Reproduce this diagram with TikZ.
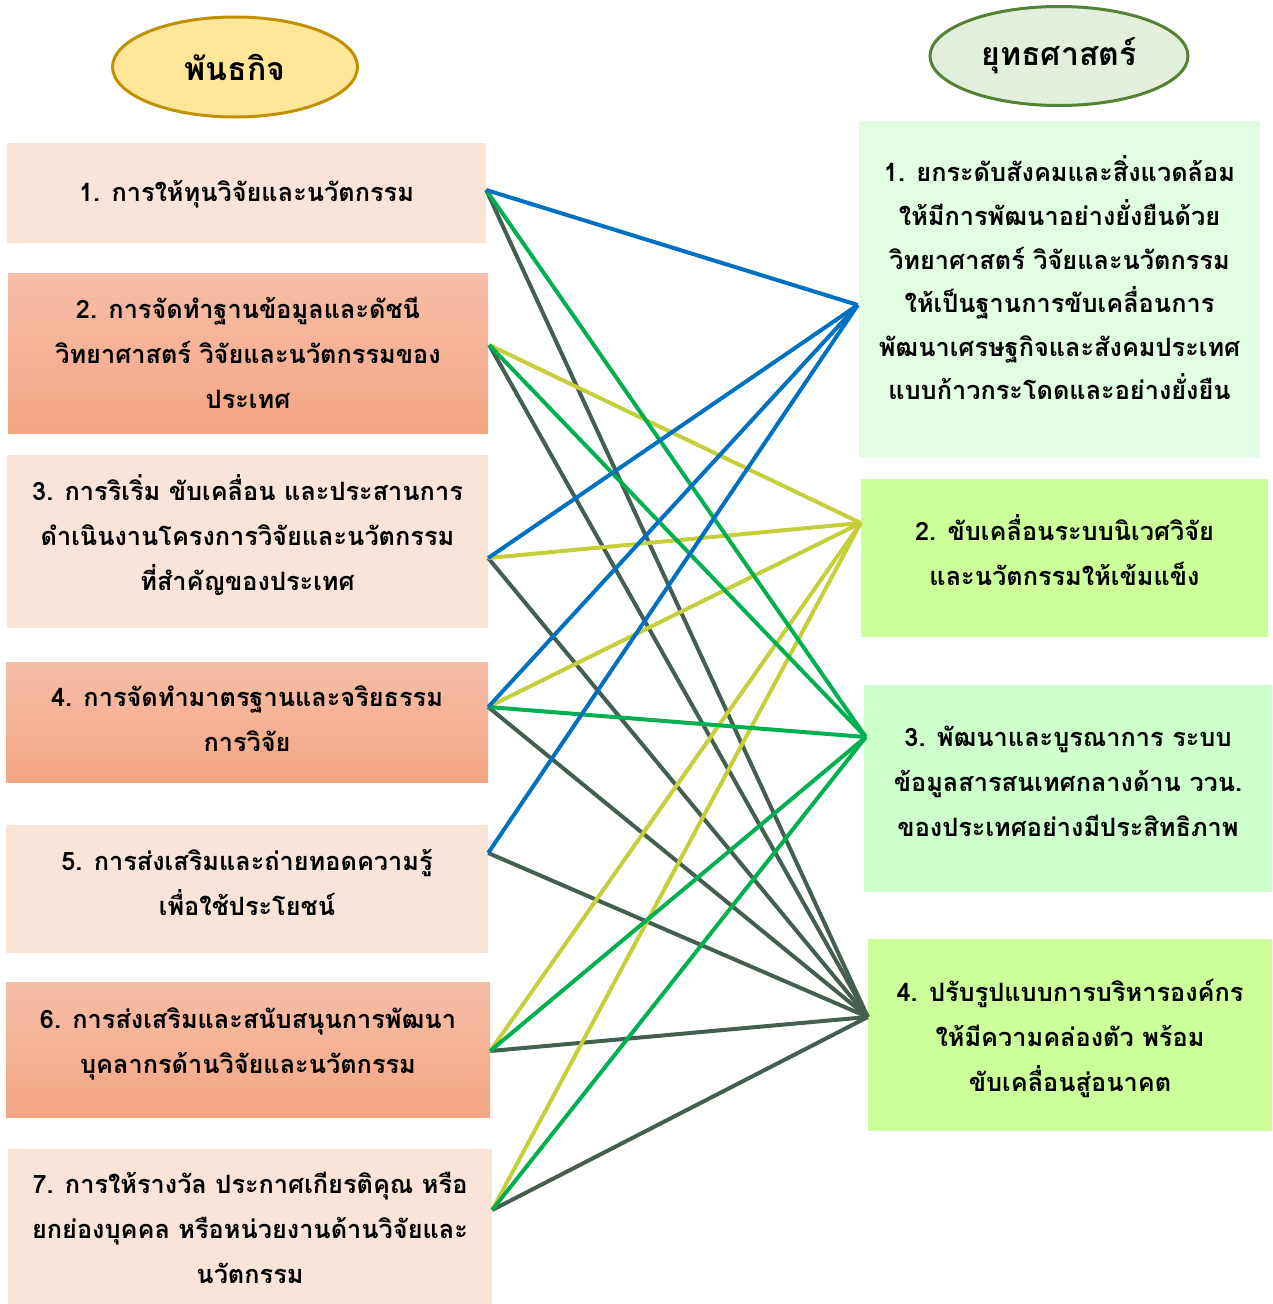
\documentclass[tikz,border=0pt]{standalone}
\usepackage{fontspec}
\usetikzlibrary{shapes.geometric}
\newfontfamily\thai[Script=Thai]{Loma}
\definecolor{peach}{HTML}{FAE4D7}
\definecolor{salmonTop}{HTML}{F6BEA7}
\definecolor{salmonBot}{HTML}{F4A683}
\definecolor{mint}{HTML}{E2FEE0}
\definecolor{lime}{HTML}{CCFF99}
\definecolor{paleGreen}{HTML}{CCFFCC}
\definecolor{goldFill}{HTML}{FFE699}
\definecolor{goldLine}{HTML}{BF9000}
\definecolor{sageFill}{HTML}{E2EFDA}
\definecolor{sageLine}{HTML}{548235}
\definecolor{cBlue}{HTML}{0070C0}
\definecolor{cGreen}{HTML}{00B050}
\definecolor{cYellow}{HTML}{C4CF3A}
\definecolor{cDark}{HTML}{445F4F}
\tikzset{
  boxtext/.style={align=center, inner sep=0pt, font=\thai\bfseries\fontsize{25.3}{45}\selectfont, text=black},
  boxbase/.style={rectangle, inner sep=0pt, draw=none},
  peachbox/.style={boxbase, fill=peach},
  salmonbox/.style={boxbase, top color=salmonTop, bottom color=salmonBot},
  mintbox/.style={boxbase, fill=mint},
  limebox/.style={boxbase, fill=lime},
  palebox/.style={boxbase, fill=paleGreen},
  headoval/.style={ellipse, line width=3pt, inner sep=0pt, font=\thai\bfseries\fontsize{32}{38}\selectfont},
  conn/.style={line width=4pt},
  blueline/.style={conn, draw=cBlue},
  greenline/.style={conn, draw=cGreen},
  yellowline/.style={conn, draw=cYellow},
  darkline/.style={conn, draw=cDark},
}
\begin{document}
\begin{tikzpicture}[x=1pt,y=-1pt]
\useasboundingbox (0,0) rectangle (1272,1304);
% headers
\node[headoval, fill=goldFill, draw=goldLine, minimum width=245pt, minimum height=100pt] (H1) at (235,67) {พันธกิจ};
\node[headoval, fill=sageFill, draw=sageLine, minimum width=258pt, minimum height=99pt] (H2) at (1059,56) {ยุทธศาสตร์};
% left boxes
\node[peachbox, minimum width=479pt, minimum height=100pt] (L1) at (246.5,193) {};
\node[salmonbox, minimum width=480pt, minimum height=160pt] (L2) at (248,353) {};
\node[peachbox, minimum width=481pt, minimum height=173pt] (L3) at (247.5,541.5) {};
\node[salmonbox, minimum width=482pt, minimum height=120pt] (L4) at (247,722) {};
\node[peachbox, minimum width=482pt, minimum height=128pt] (L5) at (247,889) {};
\node[salmonbox, minimum width=484pt, minimum height=135pt] (L6) at (248,1049.5) {};
\node[peachbox, minimum width=484pt, minimum height=155pt] (L7) at (250,1226.5) {};
% right boxes
\node[mintbox, minimum width=401pt, minimum height=336pt] (R1) at (1059.5,289) {};
\node[limebox, minimum width=407pt, minimum height=158pt] (R2) at (1064.5,558) {};
\node[palebox, minimum width=408pt, minimum height=207pt] (R3) at (1068,788.5) {};
\node[limebox, minimum width=404pt, minimum height=192pt] (R4) at (1070,1035) {};
% texts
\node[boxtext] (L1t) at (246.5,194) {1. การให้ทุนวิจัยและนวัตกรรม};
\node[boxtext] (L2t) at (248,353) {2. การจัดทำฐานข้อมูลและดัชนี\\วิทยาศาสตร์ วิจัยและนวัตกรรมของ\\ประเทศ};
\node[boxtext] (L3t) at (247.5,535) {3. การริเริ่ม ขับเคลื่อน และประสานการ\\ดำเนินงานโครงการวิจัยและนวัตกรรม\\ที่สำคัญของประเทศ};
\node[boxtext] (L4t) at (247,719) {4. การจัดทำมาตรฐานและจริยธรรม\\การวิจัย};
\node[boxtext] (L5t) at (247,882.5) {5. การส่งเสริมและถ่ายทอดความรู้\\เพื่อใช้ประโยชน์};
\node[boxtext] (L6t) at (248,1043.5) {6. การส่งเสริมและสนับสนุนการพัฒนา\\บุคลากรด้านวิจัยและนวัตกรรม};
\node[boxtext] (L7t) at (250,1228) {7. การให้รางวัล ประกาศเกียรติคุณ หรือ\\ยกย่องบุคคล หรือหน่วยงานด้านวิจัยและ\\นวัตกรรม};
\node[boxtext, font=\thai\bfseries\fontsize{25.3}{43.6}\selectfont] (R1t) at (1059.5,278) {1. ยกระดับสังคมและสิ่งแวดล้อม\\ให้มีการพัฒนาอย่างยั่งยืนด้วย\\วิทยาศาสตร์ วิจัยและนวัตกรรม\\ให้เป็นฐานการขับเคลื่อนการ\\พัฒนาเศรษฐกิจและสังคมประเทศ\\แบบก้าวกระโดดและอย่างยั่งยืน};
\node[boxtext] (R2t) at (1064.5,550) {2. ขับเคลื่อนระบบนิเวศวิจัย\\และนวัตกรรมให้เข้มแข็ง};
\node[boxtext] (R3t) at (1068,781) {3. พัฒนาและบูรณาการ ระบบ\\ข้อมูลสารสนเทศกลางด้าน ววน.\\ของประเทศอย่างมีประสิทธิภาพ};
\node[boxtext] (R4t) at (1070,1038) {4. ปรับรูปแบบการบริหารองค์กร\\ให้มีความคล่องตัว พร้อม\\ขับเคลื่อนสู่อนาคต};
% connector ends
\coordinate (l1) at (L1.east |- 0,190);
\coordinate (l2) at ([xshift=1pt]L2.east |- 0,345);
\coordinate (l3) at (L3.east |- 0,558);
\coordinate (l4) at (L4.east |- 0,707);
\coordinate (l5) at (L5.east |- 0,853);
\coordinate (l6) at (L6.east |- 0,1051);
\coordinate (l7) at (L7.east |- 0,1210);
\coordinate (r1) at ([xshift=-1pt]R1.west |- 0,305);
\coordinate (r2) at (R2.west |- 0,523);
\coordinate (r3) at ([xshift=2pt]R3.west |- 0,737);
\coordinate (r4) at (R4.west |- 0,1017);
% connectors
\foreach \s in {l1,l2,l3,l4,l5,l6,l7} \draw[darkline] (\s) -- (r4);
\foreach \s in {l2,l3,l4,l6,l7} \draw[yellowline] (\s) -- (r2);
\foreach \s in {l1,l2,l4,l6,l7} \draw[greenline] (\s) -- (r3);
\foreach \s in {l1,l3,l4,l5} \draw[blueline] (\s) -- (r1);
\end{tikzpicture}
\end{document}
